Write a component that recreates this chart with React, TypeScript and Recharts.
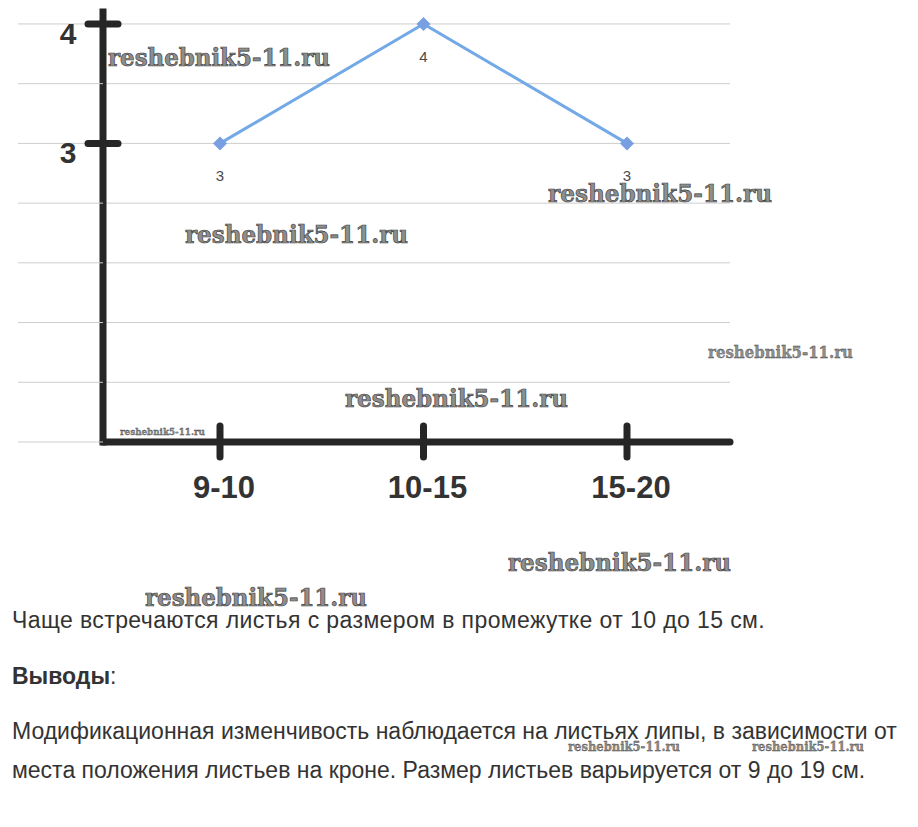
import React from 'react';
import { LineChart, Line, XAxis, YAxis, CartesianGrid, LabelList } from 'recharts';

const categories = ['9-10', '10-15', '15-20'];
const counts = [3, 4, 3];
const yTicks = [0.5, 1, 1.5, 2, 2.5, 3, 3.5, 4];
const yLabeledTicks = [3, 4];

const data = categories.map((c, i) => ({ range: c, count: counts[i] }));

const watermarkText = 'reshebnik5-11.ru';
const watermarks = [
  { x: 108, y: 66, w: 222, s: 25 },
  { x: 548, y: 202, w: 224, s: 25 },
  { x: 185, y: 243, w: 223, s: 25 },
  { x: 708, y: 358, w: 145, s: 16 },
  { x: 345, y: 407, w: 223, s: 25 },
  { x: 120, y: 435, w: 85, s: 10 },
  { x: 508, y: 571, w: 223, s: 25 },
  { x: 145, y: 606, w: 222, s: 25 },
  { x: 568, y: 751, w: 112, s: 12 },
  { x: 752, y: 751, w: 112, s: 12 },
];

const AXIS = '#262626';
const GRID = '#cdcdcd';
const BLUE = '#72a9e6';

const YTick = (props: any) => {
  const { x, y, payload } = props;
  const labeled = yLabeledTicks.includes(payload.value);
  return (
    <g>
      <line x1={x - 85} x2={x} y1={y} y2={y} stroke={GRID} strokeWidth={1} />
      {labeled && (
        <>
          <line x1={x - 15} x2={x + 15} y1={y} y2={y} stroke={AXIS} strokeWidth={7} strokeLinecap="round" />
          <text
            x={x - 35}
            y={y + 20}
            textAnchor="middle"
            fontSize={30}
            fontWeight="bold"
            fill="#333"
            fontFamily="Liberation Sans, Arial, sans-serif"
          >
            {payload.value}
          </text>
        </>
      )}
    </g>
  );
};

const XTick = (props: any) => {
  const { x, y, payload } = props;
  return (
    <g>
      <line x1={x} x2={x} y1={y - 16} y2={y + 15} stroke={AXIS} strokeWidth={7} strokeLinecap="round" />
      <text
        x={x + 4}
        y={y + 56}
        textAnchor="middle"
        fontSize={31}
        fontWeight="bold"
        fill="#333"
        fontFamily="Liberation Sans, Arial, sans-serif"
      >
        {payload.value}
      </text>
    </g>
  );
};

const Diamond = (props: any) => {
  const { cx, cy, index } = props;
  const r = 7;
  return (
    <path
      key={`d-${index}`}
      d={`M${cx},${cy - r} L${cx + r},${cy} L${cx},${cy + r} L${cx - r},${cy} Z`}
      fill="#779fe2"
    />
  );
};

const textStyle: React.CSSProperties = {
  position: 'absolute',
  left: 12,
  fontFamily: 'Liberation Sans, Arial, sans-serif',
  fontSize: 23,
  lineHeight: '26px',
  color: '#333',
  whiteSpace: 'nowrap',
};

export default function App() {
  return (
    <div
      style={{
        position: 'absolute',
        left: 0,
        top: 0,
        width: 918,
        height: 827,
        overflow: 'hidden',
        background: '#fff',
      }}
    >
      <div style={{ position: 'absolute', left: 0, top: 0 }}>
        <LineChart
          width={918}
          height={580}
          data={data}
          margin={{ top: 12, right: 188, bottom: 0, left: 0 }}
          style={{ fontFamily: 'Liberation Sans, Arial, sans-serif' }}
        >
          <CartesianGrid vertical={false} stroke={GRID} horizontalValues={yTicks} />
          <YAxis
            type="number"
            domain={[0.5, 4.1]}
            ticks={yTicks}
            width={103}
            tickSize={0}
            tickMargin={0}
            tickLine={false}
            axisLine={{ stroke: AXIS, strokeWidth: 7, strokeLinecap: 'square' }}
            tick={<YTick />}
            interval={0}
          />
          <XAxis
            dataKey="range"
            type="category"
            scale="point"
            padding={{ left: 117, right: 103 }}
            height={138}
            tickSize={0}
            tickMargin={0}
            tickLine={false}
            axisLine={{ stroke: AXIS, strokeWidth: 7, strokeLinecap: 'round' }}
            tick={<XTick />}
            interval={0}
          />
          <Line
            type="linear"
            dataKey="count"
            stroke={BLUE}
            strokeWidth={3}
            dot={<Diamond />}
            activeDot={false}
            isAnimationActive={false}
          >
            <LabelList
              dataKey="count"
              position="bottom"
              offset={27}
              fill="#4a4a4a"
              fontSize={15}
              fontFamily="Liberation Sans, Arial, sans-serif"
            />
          </Line>
        </LineChart>
      </div>

      <div style={{ ...textStyle, top: 607, letterSpacing: 0.4 }}>
        Чаще встречаются листья с размером в промежутке от 10 до 15 см.
      </div>
      <div style={{ ...textStyle, top: 663 }}>
        <b>Выводы</b>:
      </div>
      <div style={{ ...textStyle, top: 718 }}>
        Модификационная изменчивость наблюдается на листьях липы, в зависимости от
      </div>
      <div style={{ ...textStyle, top: 757 }}>
        места положения листьев на кроне. Размер листьев варьируется от 9 до 19 см.
      </div>

      <svg
        width={918}
        height={827}
        style={{ position: 'absolute', left: 0, top: 0, pointerEvents: 'none' }}
      >
        {watermarks.map((w, i) => (
          <text
            key={i}
            x={w.x}
            y={w.y}
            fontSize={w.s}
            fontWeight="bold"
            fontFamily="DejaVu Serif, Liberation Serif, serif"
            textLength={w.w}
            lengthAdjust="spacingAndGlyphs"
            fill="#8e8e8e"
            stroke="#3c3c3c"
            strokeWidth={w.s > 20 ? 0.7 : 0.3}
          >
            {watermarkText}
          </text>
        ))}
      </svg>
    </div>
  );
}
